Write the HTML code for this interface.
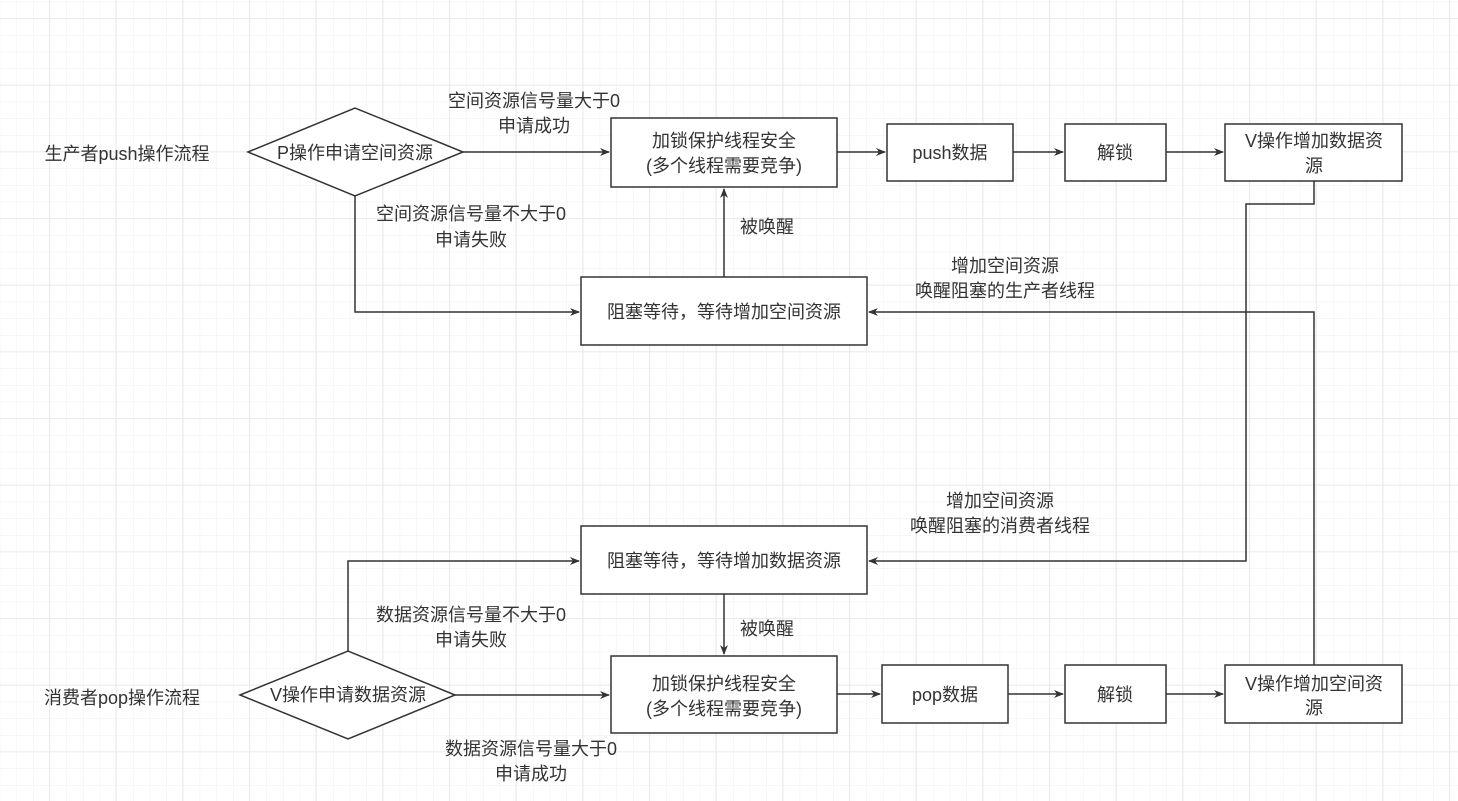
<!DOCTYPE html>
<html><head><meta charset="utf-8"><style>
html,body{margin:0;padding:0;background:#fff}
svg{display:block}
text{font-family:"Liberation Sans","Noto Sans CJK SC",sans-serif;font-size:18px;fill:#333}
</style></head><body>
<svg width="1458" height="801" xmlns="http://www.w3.org/2000/svg">
<defs>
<pattern id="minor" x="-0.3" y="1.7" width="16.667" height="16.667" patternUnits="userSpaceOnUse">
<path d="M0 0H16.667M0 0V16.667" stroke="#efefef" stroke-width="1" fill="none"/>
</pattern>
<pattern id="major" x="49" y="18" width="66.667" height="66.667" patternUnits="userSpaceOnUse">
<path d="M0 0H66.667M0 0V66.667" stroke="#e6e6e6" stroke-width="1.5" fill="none"/>
</pattern>
<marker id="ar" markerWidth="10" markerHeight="10" refX="9" refY="5" orient="auto" markerUnits="userSpaceOnUse">
<path d="M0,1 L10,5 L0,9 L3,5 Z" fill="#333"/>
</marker>
</defs>
<rect width="1458" height="801" fill="url(#minor)"/>
<rect width="1458" height="801" fill="url(#major)"/>
<g stroke="#333" stroke-width="1.5" fill="#fff">
<!-- top flow -->
<polygon points="248,152 355,108 463,152 355,196"/>
<rect x="611" y="118" width="226" height="69"/>
<rect x="887" y="124" width="126" height="57"/>
<rect x="1065" y="124" width="101" height="57"/>
<rect x="1225" y="124" width="177" height="57"/>
<rect x="581" y="277" width="286" height="68"/>
<!-- bottom flow -->
<polygon points="240,695 348,651 455,695 348,739"/>
<rect x="581" y="526" width="286" height="68"/>
<rect x="611" y="656" width="226" height="77"/>
<rect x="882" y="665" width="126" height="58"/>
<rect x="1065" y="665" width="101" height="58"/>
<rect x="1225" y="665" width="177" height="58"/>
</g>
<g stroke="#333" stroke-width="1.5" fill="none" marker-end="url(#ar)">
<path d="M463 152H609"/>
<path d="M837 152H885"/>
<path d="M1013 152H1063"/>
<path d="M1166 152H1223"/>
<path d="M355 196V312H579"/>
<path d="M724 277V189"/>
<path d="M1314 665V312H869"/>
<path d="M1314 181V204H1246V561H869"/>
<path d="M455 695H609"/>
<path d="M837 694H880"/>
<path d="M1008 694H1063"/>
<path d="M1166 694H1223"/>
<path d="M348 651V561H579"/>
<path d="M724 594V654"/>
</g>
<g text-anchor="middle">
<text x="127" y="160">生产者push操作流程</text>
<text x="355" y="159">P操作申请空间资源</text>
<text x="534" y="107">空间资源信号量大于0</text>
<text x="534" y="132">申请成功</text>
<text x="471" y="220">空间资源信号量不大于0</text>
<text x="471" y="246">申请失败</text>
<text x="724" y="147">加锁保护线程安全</text>
<text x="724" y="172">(多个线程需要竞争)</text>
<text x="950" y="159">push数据</text>
<text x="1115" y="159">解锁</text>
<text x="1314" y="147">V操作增加数据资</text>
<text x="1314" y="172">源</text>
<text x="767" y="233">被唤醒</text>
<text x="724" y="318">阻塞等待，等待增加空间资源</text>
<text x="1005" y="272">增加空间资源</text>
<text x="1005" y="297">唤醒阻塞的生产者线程</text>
<text x="1000" y="507">增加空间资源</text>
<text x="1000" y="532">唤醒阻塞的消费者线程</text>
<text x="724" y="567">阻塞等待，等待增加数据资源</text>
<text x="471" y="621">数据资源信号量不大于0</text>
<text x="471" y="646">申请失败</text>
<text x="767" y="635">被唤醒</text>
<text x="122" y="704">消费者pop操作流程</text>
<text x="348" y="701">V操作申请数据资源</text>
<text x="724" y="690">加锁保护线程安全</text>
<text x="724" y="715">(多个线程需要竞争)</text>
<text x="945" y="701">pop数据</text>
<text x="1115" y="701">解锁</text>
<text x="1314" y="690">V操作增加空间资</text>
<text x="1314" y="714">源</text>
<text x="531" y="755">数据资源信号量大于0</text>
<text x="531" y="780">申请成功</text>
</g>
</svg>
</body></html>
